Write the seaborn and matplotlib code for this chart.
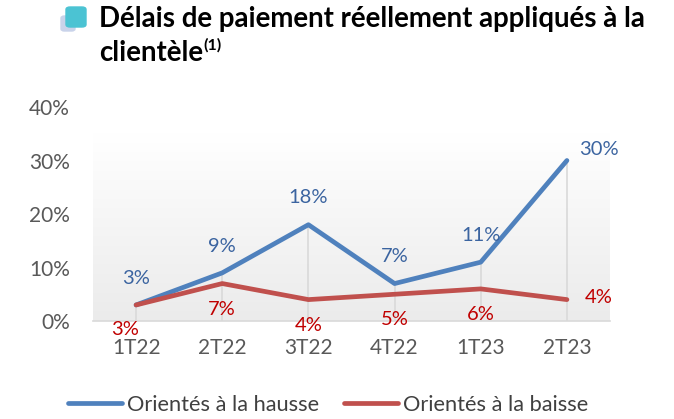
import numpy as np
import pandas as pd
import seaborn as sns
import matplotlib.pyplot as plt
from matplotlib.colors import LinearSegmentedColormap
from matplotlib.patches import FancyBboxPatch
from matplotlib.lines import Line2D

categories = ["1T22", "2T22", "3T22", "4T22", "1T23", "2T23"]
hausse = [3, 9, 18, 7, 11, 30]
baisse = [3, 7, 4, 5, 6, 4]
series_names = ["Orientés à la hausse", "Orientés à la baisse"]
yticks = [0, 10, 20, 30, 40]

sns.set_theme(style="white")
plt.rcParams['font.family'] = ['Lato', 'DejaVu Sans']

df = pd.DataFrame({
    "x": list(range(len(categories))) * 2,
    "val": hausse + baisse,
    "serie": [series_names[0]] * len(categories) + [series_names[1]] * len(categories),
})

BLUE = "#4F81BD"
RED = "#C0504D"
BLUE_T = "#3B64A0"
RED_T = "#C00000"
GRAY_T = "#595959"
W, H = 674, 419

fig = plt.figure(figsize=(W / 100, H / 100), dpi=100)
ax = fig.add_axes([93 / W, 1 - 321 / H, (610 - 93) / W, (321 - 107) / H])


def fit(txt, target_px):
    fig.canvas.draw()
    w = txt.get_window_extent().width
    txt.set_fontsize(txt.get_fontsize() * target_px / w)


# gradient background
cmap = LinearSegmentedColormap.from_list("g", ["#ebebeb", "#ffffff"])
grad = np.linspace(0, 1, 256).reshape(-1, 1)
ax.imshow(grad, extent=[-0.5, len(categories) - 0.5, 0, 35], origin="lower",
          aspect="auto", cmap=cmap, zorder=0)

# drop lines
for i, (h, b) in enumerate(zip(hausse, baisse)):
    ax.plot([i, i], [0, max(h, b)], color="#d9d9d9", lw=1.2, zorder=1)

sns.lineplot(data=df, x="x", y="val", hue="serie", palette=[BLUE, RED],
             linewidth=3.4, ax=ax, legend=False, zorder=3)

LS = 14.5
for i, v in enumerate(hausse):
    if i == len(hausse) - 1:
        ax.text(i + 0.37, v + 2.0, f"{v}%", color=BLUE_T, fontsize=LS, ha="center", va="center")
    else:
        ax.text(i, v + 5.0, f"{v}%", color=BLUE_T, fontsize=LS, ha="center", va="center")
for i, v in enumerate(baisse):
    if i == len(baisse) - 1:
        ax.text(i + 0.37, v + 0.4, f"{v}%", color=RED_T, fontsize=LS, ha="center", va="center")
    elif i == 0:
        ax.text(i - 0.13, v - 4.5, f"{v}%", color=RED_T, fontsize=LS, ha="center", va="center")
    else:
        ax.text(i, v - 4.8, f"{v}%", color=RED_T, fontsize=LS, ha="center", va="center")

ax.set_xlim(-0.5, len(categories) - 0.5)
ax.set_ylim(0, 40)
ax.set_xticks(range(len(categories)))
ax.set_xticklabels(categories)
ax.set_yticks(yticks)
ax.set_yticklabels([f"{t}%" for t in yticks])
ax.tick_params(axis="both", colors=GRAY_T, labelsize=15, length=0)
ax.tick_params(axis="x", pad=12)
ax.tick_params(axis="y", pad=16.5)
ax.set_xlabel("")
ax.set_ylabel("")
for s in ["top", "right", "left"]:
    ax.spines[s].set_visible(False)
ax.spines["bottom"].set_color("#d9d9d9")
ax.spines["bottom"].set_linewidth(1.2)

# legend
probe = fig.text(0, 0, series_names[0], fontsize=15)
fit(probe, 193)
lfs = probe.get_fontsize()
probe.remove()
fpx = lfs * 100 / 72
handles = [Line2D([], [], color=BLUE, lw=3.4, solid_capstyle="round"),
           Line2D([], [], color=RED, lw=3.4, solid_capstyle="round")]
leg = fig.legend(handles, series_names, loc="center", bbox_to_anchor=(328 / W, 1 - 405 / H),
                 ncol=2, frameon=False, fontsize=lfs, handlelength=54 / fpx,
                 handletextpad=5 / fpx, columnspacing=25 / fpx, borderpad=0, borderaxespad=0)
for t in leg.get_texts():
    t.set_color("#404040")

# title icon
icon_shadow = FancyBboxPatch((61 / W, 1 - 31 / H), 14 / W, 15 / H,
                             boxstyle="round,pad=0,rounding_size=0.005",
                             transform=fig.transFigure, color="#c9d3ea", zorder=1)
icon = FancyBboxPatch((66 / W, 1 - 27 / H), 20 / W, 20 / H,
                      boxstyle="round,pad=0,rounding_size=0.006",
                      transform=fig.transFigure, color="#4BC3D3", zorder=2)
fig.patches.extend([icon_shadow, icon])

t1 = fig.text(99 / W, 1 - 19 / H, "Délais de paiement réellement appliqués à la",
              fontsize=18, fontweight="bold", color="black", va="center", ha="left")
fit(t1, 546)
tfs = t1.get_fontsize()
t2 = fig.text(99 / W, 1 - 53 / H, "clientèle",
              fontsize=tfs, fontweight="bold", color="black", va="center", ha="left")
fig.canvas.draw()
bb = t2.get_window_extent()
fig.text(bb.x1 / W + 0.001, 1 - 45 / H, "(1)", fontsize=tfs * 0.58,
         fontweight="bold", color="black", va="center", ha="left")

fig.savefig("out.png", dpi=100)
